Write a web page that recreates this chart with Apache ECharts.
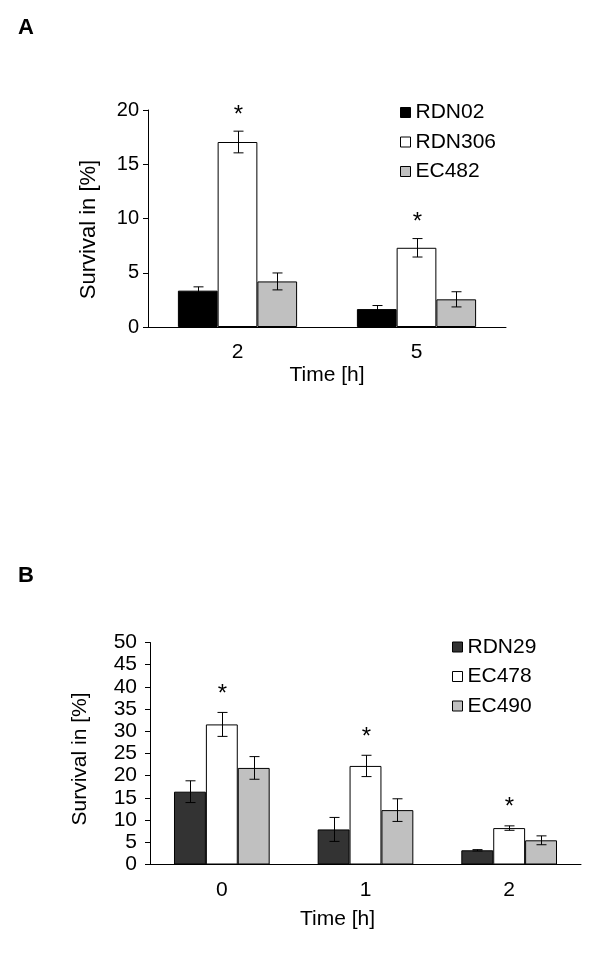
<!DOCTYPE html>
<html>
<head>
<meta charset="utf-8">
<script src="https://cdn.jsdelivr.net/npm/echarts@6/dist/echarts.min.js"></script>
<style>
  html, body { margin: 0; padding: 0; background: #fff; }
  #chart { width: 600px; height: 962px; }
</style>
</head>
<body>
<div id="chart"></div>
<script>
// panel A
const timesA = ['2', '5'];
const rdn02 = [3.35, 1.65];
const rdn02Err = [0.35, 0.33];
const rdn306 = [17.05, 7.3];
const rdn306Err = [1.0, 0.85];
const ec482 = [4.2, 2.55];
const ec482Err = [0.78, 0.7];
const starsA = [true, true]; // over RDN306

// panel B
const timesB = ['0', '1', '2'];
const rdn29 = [16.4, 7.9, 3.2];
const rdn29Err = [2.45, 2.7, 0.15];
const ec478 = [31.55, 22.2, 8.2];
const ec478Err = [2.7, 2.4, 0.5];
const ec490 = [21.75, 12.25, 5.45];
const ec490Err = [2.55, 2.55, 1.0];
const starsB = [true, true, true]; // over EC478

const FONT = "'Liberation Sans', Arial, sans-serif";
const BAR = 0.222;

function barSeries(name, axis, data, color) {
  return {
    type: 'bar', name: name, xAxisIndex: axis, yAxisIndex: axis,
    data: data, barWidth: (BAR * 100) + '%', barGap: '0%',
    itemStyle: { color: color, borderColor: '#000', borderWidth: 1 }
  };
}

function errSeries(name, axis, vals, errs, slot, stars, starGap) {
  return {
    type: 'custom', name: name, xAxisIndex: axis, yAxisIndex: axis, z: 5, silent: true,
    data: vals.map((v, i) => [i, v, errs[i], stars && stars[i] ? 1 : 0]),
    encode: { x: 0, y: 1 },
    renderItem: function (params, api) {
      const i = api.value(0), v = api.value(1), e = api.value(2);
      const band = api.size([1, 0])[0];
      const c = api.coord([i, v]);
      const x = Math.round(c[0] + (slot - 1) * band * BAR) + 0.5;
      const top = api.coord([i, v + e])[1];
      const bot = api.coord([i, v - e])[1];
      const st = { stroke: '#000', lineWidth: 1 };
      const kids = [
        { type: 'line', shape: { x1: x, y1: top, x2: x, y2: bot }, style: st },
        { type: 'line', shape: { x1: x - 5, y1: top, x2: x + 5, y2: top }, style: st },
        { type: 'line', shape: { x1: x - 5, y1: bot, x2: x + 5, y2: bot }, style: st }
      ];
      if (api.value(3)) {
        kids.push({
          type: 'text',
          style: { text: '*', x: x, y: top - starGap, align: 'center', verticalAlign: 'middle',
                   fill: '#000', fontSize: 24, fontFamily: FONT }
        });
      }
      return { type: 'group', children: kids };
    }
  };
}

function xAxisOf(idx, cats, gap, pad) {
  return {
    gridIndex: idx, type: 'category', data: cats,
    axisLine: { lineStyle: { color: '#000', width: 1 } },
    axisTick: { length: 5, lineStyle: { color: '#000' } },
    axisLabel: { color: '#000', fontSize: 21, margin: 15, fontFamily: FONT },
    name: 'Time [h]', nameLocation: 'middle', nameGap: gap,
    nameTextStyle: { color: '#000', fontSize: 21, fontFamily: FONT, padding: pad }
  };
}

function yAxisOf(idx, max, fs, margin, gap, nfs, pad) {
  return {
    gridIndex: idx, type: 'value', min: 0, max: max, interval: 5,
    splitLine: { show: false },
    axisLine: { show: true, lineStyle: { color: '#000', width: 1 } },
    axisTick: { show: true, length: 5, lineStyle: { color: '#000' } },
    axisLabel: { color: '#000', fontSize: fs, margin: margin, fontFamily: FONT },
    name: 'Survival in [%]', nameLocation: 'middle', nameGap: gap,
    nameTextStyle: { color: '#000', fontSize: nfs, fontFamily: FONT, padding: pad }
  };
}

function legendOf(names, left, top) {
  return {
    data: names, orient: 'vertical', left: left, top: top, padding: 0,
    icon: 'rect', itemWidth: 10, itemHeight: 10, itemGap: 8.5,
    itemStyle: { borderColor: '#000', borderWidth: 1 },
    textStyle: { color: '#000', fontSize: 21, lineHeight: 21, fontFamily: FONT },
    selectedMode: false
  };
}

const chart = echarts.init(document.getElementById('chart'));
chart.setOption({
  animation: false,
  backgroundColor: '#fff',
  graphic: [
    { type: 'text', left: 18, top: 17, style: { text: 'A', fill: '#000', font: 'bold 22px ' + FONT } },
    { type: 'text', left: 18, top: 565, style: { text: 'B', fill: '#000', font: 'bold 22px ' + FONT } }
  ],
  grid: [
    { left: 148, top: 110, width: 358, height: 217 },
    { left: 150, top: 642.5, width: 431, height: 222 }
  ],
  legend: [
    legendOf(['RDN02', 'RDN306', 'EC482'], 400, 102),
    legendOf(['RDN29', 'EC478', 'EC490'], 452, 636.5)
  ],
  xAxis: [xAxisOf(0, timesA, 38, 0), xAxisOf(1, timesB, 44, [0, 56, 0, 0])],
  yAxis: [
    yAxisOf(0, 20, 20, 9, 48, 22, [0, 22, 0, 0]),
    yAxisOf(1, 50, 21, 13, 59, 21, [0, 11, 0, 0])
  ],
  series: [
    barSeries('RDN02', 0, rdn02, '#000000'),
    barSeries('RDN306', 0, rdn306, '#ffffff'),
    barSeries('EC482', 0, ec482, '#c0c0c0'),
    errSeries('RDN02 err', 0, rdn02, rdn02Err, 0, null, 0),
    errSeries('RDN306 err', 0, rdn306, rdn306Err, 1, starsA, 16),
    errSeries('EC482 err', 0, ec482, ec482Err, 2, null, 0),
    barSeries('RDN29', 1, rdn29, '#333333'),
    barSeries('EC478', 1, ec478, '#ffffff'),
    barSeries('EC490', 1, ec490, '#c0c0c0'),
    errSeries('RDN29 err', 1, rdn29, rdn29Err, 0, null, 0),
    errSeries('EC478 err', 1, ec478, ec478Err, 1, starsB, 18),
    errSeries('EC490 err', 1, ec490, ec490Err, 2, null, 0)
  ]
});
</script>
</body>
</html>
